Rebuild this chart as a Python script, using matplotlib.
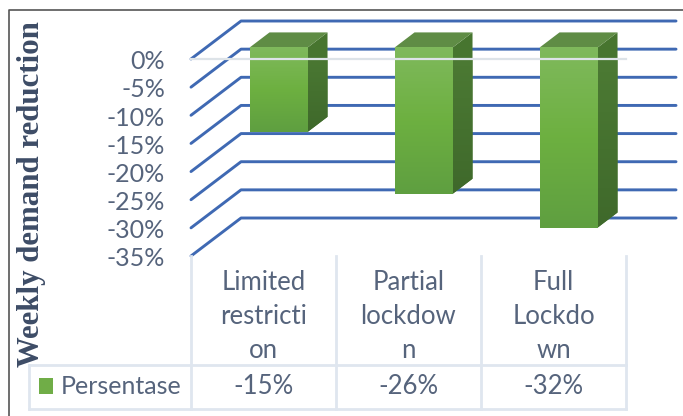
#!/usr/bin/env python3
"""Weekly demand reduction: Excel style 3D column chart with a data table."""
import matplotlib
matplotlib.use("Agg")
import matplotlib.pyplot as plt
import numpy as np
from matplotlib.colors import LinearSegmentedColormap
from matplotlib.lines import Line2D
from matplotlib.patches import Polygon, Rectangle
from matplotlib.transforms import blended_transform_factory, offset_copy

categories = ["Limited\nrestricti\non", "Partial\nlockdow\nn", "Full\nLockdo\nwn"]
values = [-15, -26, -32]
value_labels = ["-15%", "-26%", "-32%"]
y_ticks = [0, -5, -10, -15, -20, -25, -30, -35]
series_name = "Persentase"

W, H = 683, 416
TEXT = "#56647C"
GRID = "#3F69B3"
TABLE = "#DFE6EF"
# depth of the floor, in data units (x categories, y percent)
DEPTH_X, DEPTH_Y = 0.345, 6.75
BAR_W = 0.4

fig = plt.figure(figsize=(W / 100, H / 100), dpi=100)
ax = fig.add_axes([191 / W, 1 - 256 / H, (626 - 191) / W, (256 - 59) / H])
ax.axis("off")

front_cmap = LinearSegmentedColormap.from_list("front", ["#7FB95C", "#6DB040", "#5F9F40"])
side_cmap = LinearSegmentedColormap.from_list("side", ["#4E7D35", "#3F692B"])
ramp = np.linspace(0, 1, 64).reshape(-1, 1)


def fig_line(xs, ys, **kw):
    # pixel coordinates, origin top left
    fig.add_artist(Line2D([x / W for x in xs], [1 - y / H for y in ys], **kw))


# tick labels sit a little below their gridline
tick_trans = offset_copy(ax.transData, fig=fig, x=0, y=-2, units="points")

# blue gridlines run along the floor and then along the back wall
for t in y_ticks:
    ax.plot([0, DEPTH_X, 3 + DEPTH_X], [t, t + DEPTH_Y, t + DEPTH_Y],
            color=GRID, lw=2.1, clip_on=False, zorder=1, solid_capstyle="round")
    ax.text(-26 / 145, t, f"{t}%", ha="right", va="center", fontsize=18,
            color=TEXT, family="Lato", clip_on=False, transform=tick_trans)

front = 0.3
back = 0.7
for i, v in enumerate(values):
    x0 = i + 0.5 - BAR_W / 2 + front * DEPTH_X
    x1 = x0 + BAR_W
    top = front * DEPTH_Y
    bot = v + top
    dx = (back - front) * DEPTH_X
    dy = (back - front) * DEPTH_Y
    side = Polygon([(x1, top), (x1 + dx, top + dy), (x1 + dx, bot + dy), (x1, bot)],
                   color="#47752F", lw=0, zorder=3, clip_on=False)
    ax.add_patch(side)
    shade = ax.imshow(ramp, extent=[x1, x1 + dx, bot, top + dy], aspect="auto",
                      zorder=3, cmap=side_cmap)
    shade.set_clip_path(side)
    ax.add_patch(Polygon([(x0, top), (x0 + dx, top + dy), (x1 + dx, top + dy), (x1, top)],
                         color="#5F8C45", lw=0, zorder=3, clip_on=False))
    ax.imshow(ramp, extent=[x0, x1, bot, top], aspect="auto", zorder=3,
              cmap=front_cmap, clip_on=False)

ax.set_xlim(0, 3)
ax.set_ylim(-35, 0)

# pale zero line in front of the bars
ax.plot([0, 3], [0, 0], color="#DDE3E8", lw=1.6, zorder=4, clip_on=False)

# data table
for x in [191, 336, 481, 626]:
    fig_line([x, x], [256, 409], color=TABLE, lw=2)
fig_line([29, 626], [365, 365], color=TABLE, lw=2)
fig_line([29, 626], [409, 409], color=TABLE, lw=2)
fig_line([29, 29], [365, 409], color=TABLE, lw=2)

trans = blended_transform_factory(ax.transData, fig.transFigure)
for i, (c, lab) in enumerate(zip(categories, value_labels)):
    for k, part in enumerate(c.split("\n")):
        ax.text(i + 0.5, 1 - (282 + 34 * k) / H, part, transform=trans, ha="center",
                va="center", fontsize=18.5, color=TEXT, family="Lato", clip_on=False)
    ax.text(i + 0.5, 1 - 387 / H, lab, transform=trans, ha="center", va="center",
            fontsize=18.5, color=TEXT, family="Lato", clip_on=False)

fig.add_artist(Rectangle((39 / W, 1 - 394 / H), 14 / W, 16 / H, color="#70AD47", lw=0))
fig.text(61 / W, 1 - 387 / H, series_name, ha="left", va="center", fontsize=18,
         color=TEXT, family="Lato")

fig.text(32 / W, 1 - 194 / H, "Weekly demand reduction", rotation=90, ha="center",
         va="center", fontsize=22.2, fontweight="bold", color="#3D4C66",
         family="Liberation Serif")

# outer frame of the screenshot
fig_line([9, 9, W], [H, 10, 10], color="#555555", lw=1.2)

fig.savefig("out.png", dpi=100)
